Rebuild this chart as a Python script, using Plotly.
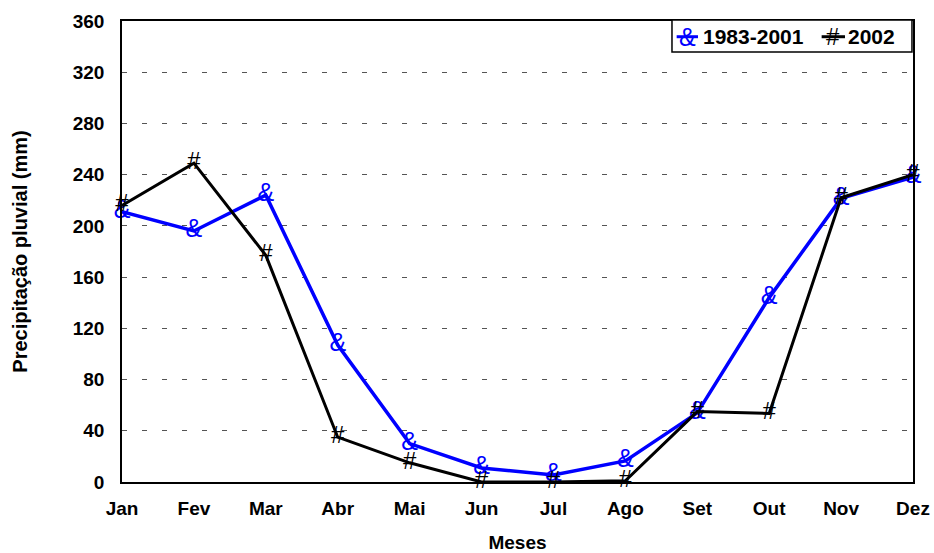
import plotly.graph_objects as go

meses = ["Jan", "Fev", "Mar", "Abr", "Mai", "Jun", "Jul", "Ago", "Set", "Out", "Nov", "Dez"]
media_1983_2001 = [211, 196, 224, 107, 30, 11, 5.5, 16.5, 54, 144, 221.5, 238]
ano_2002 = [216, 249, 177, 35, 15, 0, 0, 1, 55, 53.5, 222, 240]
y_ticks = [0, 40, 80, 120, 160, 200, 240, 280, 320, 360]
series_names = ["1983-2001", "2002"]
series_symbols = ["&", "#"]
series_colors = ["#0000FF", "#000000"]

FONT = "Liberation Sans, Arial, sans-serif"
xi = list(range(len(meses)))

fig = go.Figure()
for vals, name, sym, col, lw, fs in zip([media_1983_2001, ano_2002], series_names,
                                         series_symbols, series_colors, [3.5, 3], [25, 24]):
    fig.add_trace(go.Scatter(
        x=xi, y=vals, name=name, mode="lines+text", showlegend=False,
        text=[sym] * len(meses), textposition="middle center",
        textfont=dict(family=FONT, size=fs, color=col),
        line=dict(color=col, width=lw), cliponaxis=False,
    ))

# legend box (drawn manually so that the text symbols appear in it)
shapes = [dict(type="rect", xref="paper", yref="paper", x0=0.6953, x1=0.9987,
               y0=0.9328, y1=1.0022, line=dict(color="black", width=1.5),
               fillcolor="white", layer="above")]
annotations = []
leg_items = [(0.7012, 0.7282, 0.7143, 0.7329), (0.8845, 0.9140, 0.8988, 0.9162)]
row_y = 0.9659
for (lx0, lx1, gx, tx), name, sym, col, fs in zip(leg_items, series_names,
                                                   series_symbols, series_colors, [25, 24]):
    shapes.append(dict(type="line", xref="paper", yref="paper", x0=lx0, x1=lx1,
                       y0=row_y, y1=row_y, line=dict(color=col, width=3), layer="above"))
    annotations.append(dict(xref="paper", yref="paper", x=gx, y=row_y, text=sym,
                            showarrow=False, xanchor="center", yanchor="middle",
                            font=dict(family=FONT, size=fs, color=col)))
    annotations.append(dict(xref="paper", yref="paper", x=tx, y=row_y, text="<b>%s</b>" % name,
                            showarrow=False, xanchor="left", yanchor="middle",
                            borderpad=0, font=dict(family=FONT, size=21, color="black")))

fig.update_layout(
    width=934, height=553,
    margin=dict(l=122, r=21, t=21, b=71),
    paper_bgcolor="white", plot_bgcolor="white",
    font=dict(family=FONT, size=19, color="black"),
    showlegend=False,
    shapes=shapes, annotations=annotations,
    xaxis=dict(
        tickmode="array", tickvals=xi, ticktext=["<b>%s</b>" % m for m in meses],
        range=[0, 11], showgrid=False, zeroline=False, automargin=False,
        showline=True, linecolor="black", linewidth=1.5, mirror=True,
        ticks="", ticklabelstandoff=8,
        tickfont=dict(family=FONT, size=19, color="black"),
        title=dict(text="<b>Meses</b>", font=dict(family=FONT, size=19), standoff=27),
    ),
    yaxis=dict(
        tickmode="array", tickvals=y_ticks, ticktext=["<b>%d</b>" % v for v in y_ticks],
        range=[0, 360], showgrid=True, gridcolor="#555555", griddash="5px,15px", gridwidth=1,
        zeroline=False, showline=True, linecolor="black", linewidth=1.5, mirror=True,
        ticks="", ticklabelstandoff=12, automargin=False,
        tickfont=dict(family=FONT, size=19, color="black"),
        title=dict(text="<b>Precipitação pluvial (mm)</b>", font=dict(family=FONT, size=20), standoff=40),
    ),
)

fig.write_html(
    "out.html",
    config={"displayModeBar": False},
    post_script="document.body.style.margin='0';document.body.style.overflow='hidden';",
)
